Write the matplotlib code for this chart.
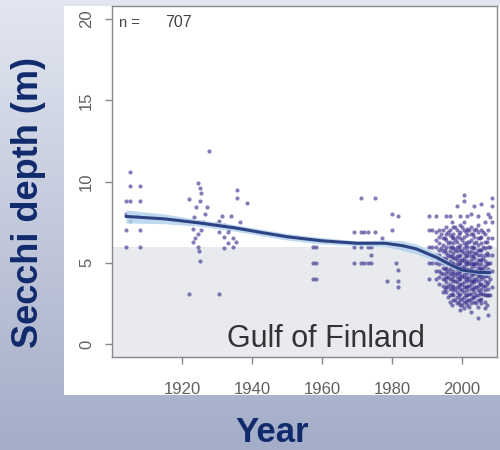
import numpy as np
import matplotlib
matplotlib.use('Agg')
import matplotlib.pyplot as plt
from matplotlib.patches import Rectangle
from matplotlib.transforms import blended_transform_factory
import matplotlib.colors as mcolors

plt.rcParams['font.family'] = ['Liberation Sans', 'DejaVu Sans']

# ---------------- data ----------------
early_years = [1905, 1905, 1908, 1904, 1905, 1908, 1904, 1907, 1904, 1908, 1904, 1908, 1905]
early_depths = [10.6, 9.7, 9.7, 8.8, 8.8, 8.8, 8.0, 7.9, 7.0, 7.0, 6.0, 6.0, 7.6]

y1925_years = [1924.5, 1925, 1925.5, 1925, 1927, 1924, 1923.5, 1924.5, 1926, 1923, 1924.5,
               1923.8, 1923.2, 1924.6, 1924.8, 1925.2, 1922, 1927.7, 1922, 1925.5, 1926.5]
y1925_depths = [9.9, 9.6, 9.3, 8.8, 8.45, 8.45, 7.8, 7.5, 7.5, 7.1, 6.8,
                6.5, 6.3, 6.0, 5.7, 5.1, 3.1, 11.9, 8.9, 7.0, 8.0]

y1933_years = [1935.7, 1935.7, 1938.6, 1931.4, 1934, 1930.5, 1929.8, 1932, 1933.5, 1930.5,
               1933, 1932, 1934.5, 1933, 1934.5, 1932, 1935.5, 1930.6, 1936.5]
y1933_depths = [9.5, 9.0, 8.7, 7.9, 7.9, 7.6, 7.4, 7.3, 7.1, 6.9,
                6.9, 6.6, 6.5, 6.2, 6.0, 5.9, 6.3, 3.1, 7.5]

mid_years = [1957.5, 1958.2, 1957.5, 1958.2, 1957.5, 1958.2,
             1969, 1971, 1972, 1973, 1975, 1969, 1971, 1973, 1974,
             1969, 1971, 1972, 1973, 1974, 1974, 1971, 1975,
             1978.6, 1980, 1980, 1981.7, 1981.7, 1981.7, 1981.7, 1981, 1977]
mid_depths = [6.0, 6.0, 5.0, 5.0, 4.0, 4.0,
              6.9, 6.9, 6.9, 6.9, 6.9, 6.0, 6.0, 6.0, 6.0,
              5.0, 5.0, 5.0, 5.0, 5.0, 5.5, 9.0, 9.0,
              3.9, 8.0, 7.0, 7.9, 4.55, 3.9, 3.5, 5.0, 6.5]

cluster_years = [1990.5, 1991.5, 1992.5, 1993.5, 1994.5, 1995.5, 1996.5, 1997.5,
                 1998.5, 1999.5, 2000.5, 2001.5, 2002.5, 2003.5, 2004.5, 2005.5,
                 2006.5, 2007.5, 2008.5]
cluster_depths = [
    [7.9, 7.0, 6.0, 5.0, 4.0],
    [7.0, 6.0, 5.5, 5.0],
    [7.9, 6.9, 6.4, 6.0, 5.5, 5.0, 4.5, 4.0],
    [7.0, 6.6, 6.2, 5.8, 5.5, 5.2, 4.9, 4.5, 4.1, 3.7],
    [7.0, 6.5, 6.1, 5.7, 5.3, 5.0, 4.7, 4.3, 4.0, 3.6, 3.2],
    [7.9, 7.2, 6.8, 6.4, 6.0, 5.6, 5.3, 5.0, 4.7, 4.4, 4.1, 3.8, 3.5, 3.2],
    [7.9, 7.0, 6.7, 6.3, 6.0, 5.7, 5.4, 5.1, 4.9, 4.6, 4.3, 4.0, 3.7, 3.4, 3.0, 2.6],
    [7.2, 6.8, 6.5, 6.2, 5.9, 5.6, 5.3, 5.0, 4.8, 4.5, 4.2, 3.9, 3.6, 3.3, 3.0, 2.7],
    [8.5, 7.0, 6.6, 6.3, 6.0, 5.7, 5.4, 5.2, 4.9, 4.6, 4.4, 4.1, 3.8, 3.5, 3.2, 2.9, 2.5],
    [7.9, 7.3, 6.9, 6.5, 6.1, 5.8, 5.5, 5.2, 5.0, 4.7, 4.5, 4.2, 4.0, 3.7, 3.4, 3.1, 2.8, 2.4, 2.1],
    [9.2, 8.8, 7.5, 7.0, 6.6, 6.2, 5.9, 5.6, 5.3, 5.1, 4.8, 4.6, 4.3, 4.1, 3.8, 3.5, 3.2, 2.9, 2.6, 2.2],
    [7.9, 7.1, 6.7, 6.3, 6.0, 5.7, 5.4, 5.1, 4.9, 4.6, 4.4, 4.1, 3.9, 3.6, 3.3, 3.0, 2.7, 2.4],
    [8.0, 7.2, 6.8, 6.4, 6.0, 5.7, 5.4, 5.2, 4.9, 4.7, 4.4, 4.2, 3.9, 3.7, 3.4, 3.1, 2.8, 2.5, 2.0],
    [8.5, 7.0, 6.6, 6.2, 5.9, 5.6, 5.3, 5.0, 4.8, 4.5, 4.3, 4.0, 3.8, 3.5, 3.2, 2.9, 2.6],
    [7.9, 7.3, 6.9, 6.5, 6.1, 5.8, 5.5, 5.2, 4.9, 4.7, 4.4, 4.2, 3.9, 3.6, 3.3, 3.0, 2.7, 2.3, 1.6],
    [8.6, 7.0, 6.6, 6.2, 5.8, 5.5, 5.2, 4.9, 4.6, 4.3, 4.0, 3.7, 3.4, 3.1, 2.8, 2.5],
    [7.5, 6.8, 6.3, 5.9, 5.5, 5.1, 4.8, 4.5, 4.2, 3.9, 3.6, 3.3, 3.0, 2.6, 2.2],
    [8.0, 7.0, 6.5, 6.0, 5.5, 5.0, 4.6, 4.2, 3.8, 3.4, 3.0, 1.8],
    [9.0, 8.5, 7.5, 6.5, 5.5, 4.5, 3.5],
]
cluster2_years = [1994.0, 1995.0, 1996.0, 1997.0, 1998.0, 1999.0, 2000.0, 2001.0,
                  2002.0, 2003.0, 2004.0, 2005.0, 2006.0, 2007.0, 2008.0]
cluster2_depths = [
    [6.8, 5.9, 5.1, 4.4],
    [6.5, 5.8, 5.2, 4.6, 4.0, 3.4],
    [6.9, 6.2, 5.5, 5.0, 4.5, 4.1, 3.6, 2.9],
    [7.5, 6.6, 6.0, 5.4, 4.9, 4.4, 4.0, 3.5, 3.1, 2.4],
    [7.2, 6.4, 5.8, 5.3, 4.8, 4.3, 3.9, 3.4, 2.7],
    [6.8, 6.0, 5.4, 4.9, 4.4, 4.0, 3.6, 3.0, 2.6],
    [7.2, 6.4, 5.7, 5.2, 4.7, 4.2, 3.7, 3.3, 2.8, 2.4],
    [6.9, 6.1, 5.5, 5.0, 4.5, 4.0, 3.5, 3.0, 2.6],
    [7.0, 6.3, 5.6, 5.0, 4.5, 4.0, 3.6, 3.1, 2.7, 2.3],
    [6.8, 6.0, 5.4, 4.9, 4.4, 3.9, 3.4, 2.9],
    [7.1, 6.3, 5.6, 5.0, 4.5, 4.0, 3.5, 3.0, 2.5],
    [6.5, 5.8, 5.2, 4.7, 4.2, 3.7, 3.2, 2.7],
    [6.9, 6.0, 5.3, 4.7, 4.1, 3.6, 3.1],
    [6.3, 5.6, 4.9, 4.3, 3.7, 3.0, 2.4],
    [7.8, 6.0, 5.0, 4.0, 3.0],
]

fit_years = [1904, 1915, 1925, 1935, 1943, 1950, 1960, 1970, 1978, 1983, 1987, 1993, 1997, 2000, 2005, 2008]
fit_depths = [7.85, 7.7, 7.45, 7.15, 6.85, 6.6, 6.35, 6.2, 6.2, 6.05, 5.85, 5.3, 4.85, 4.55, 4.4, 4.4]
fit_half = [0.4, 0.3, 0.2, 0.2, 0.2, 0.2, 0.2, 0.15, 0.2, 0.3, 0.3, 0.25, 0.15, 0.12, 0.12, 0.2]

threshold = 6.0
n_obs = 707
region = "Gulf of Finland"
x_ticks = [1920, 1940, 1960, 1980, 2000]
y_ticks = [0, 5, 10, 15, 20]

# ---------------- figure ----------------
W, H = 500, 450
fig = plt.figure(figsize=(W / 100, H / 100), dpi=100)

# gradient background
bg = fig.add_axes([0, 0, 1, 1], zorder=-10)
c_top = np.array(mcolors.to_rgb('#e2e6f0'))
c_bot = np.array(mcolors.to_rgb('#a4adc8'))
t = np.linspace(0, 1, 256)[:, None]
grad = (c_top[None, :] * (1 - t) + c_bot[None, :] * t)[:, None, :]
bg.imshow(grad, aspect='auto', extent=[0, 1, 0, 1], origin='upper')
bg.set_xlim(0, 1)
bg.set_ylim(0, 1)
bg.axis('off')

# white panel
panel = Rectangle((64 / W, 1 - 395 / H), (W - 64) / W, (395 - 6) / H,
                  transform=fig.transFigure, facecolor='white', edgecolor='none', zorder=-5)
fig.patches.append(panel)

ax = fig.add_axes([112 / W, 1 - 357 / H, (497 - 112) / W, (357 - 6) / H])
ax.set_facecolor('white')
ax.set_xlim(1900, 2010)
ax.set_ylim(-0.8, 20.8)

ax.axhspan(-0.8, threshold, color='#e8eaee', zorder=0, lw=0)

all_years = (early_years + y1925_years + y1933_years + mid_years +
             list(np.repeat(cluster_years, [len(d) for d in cluster_depths])) +
             list(np.repeat(cluster2_years, [len(d) for d in cluster2_depths])))
all_depths = (early_depths + y1925_depths + y1933_depths + mid_depths +
              [v for d in cluster_depths for v in d] +
              [v for d in cluster2_depths for v in d])
ax.plot(all_years, all_depths, 'o', ms=3.0, mew=0, color='#372c8c', alpha=0.62, zorder=2)

lo = np.array(fit_depths) - np.array(fit_half)
hi = np.array(fit_depths) + np.array(fit_half)
ax.fill_between(fit_years, lo, hi, color='#b3d2ee', alpha=0.85, lw=0, zorder=3)
ax.plot(fit_years, fit_depths, color='#2e4282', lw=2.2, zorder=4, solid_capstyle='round')

ax.text(1902, 19.5, "n =", fontsize=10.5, color='#444444', va='baseline', ha='left')
ax.text(1915.1, 19.5, str(n_obs), fontsize=11.5, color='#444444', va='baseline', ha='left')
ax.text(1961.1, -0.18, region, fontsize=22, color='#333333', ha='center', va='baseline', zorder=5)

ax.set_xticks(x_ticks)
ax.set_yticks(y_ticks)
ax.set_yticklabels([])
ax.tick_params(axis='both', colors='#888888', labelcolor='#606060', labelsize=12,
               length=5, width=1, direction='out')
ax.tick_params(axis='x', pad=13)

ytrans = blended_transform_factory(fig.transFigure, ax.transData)
for v in y_ticks:
    ax.text(86.5 / W, v, str(v), transform=ytrans, rotation=90, fontsize=12,
            color='#606060', ha='center', va='center', clip_on=False)

for s in ax.spines.values():
    s.set_color('#888888')
    s.set_linewidth(1)

fig.text(29 / W, 1 - 203 / H, "Secchi depth (m)", rotation=90, fontsize=26, fontweight='bold',
         color='#102a6c', ha='center', va='center')
fig.text(272 / W, 1 / H, "Year", fontsize=25, fontweight='bold',
         color='#102a6c', ha='center', va='bottom')

fig.savefig('out.png', dpi=100)
